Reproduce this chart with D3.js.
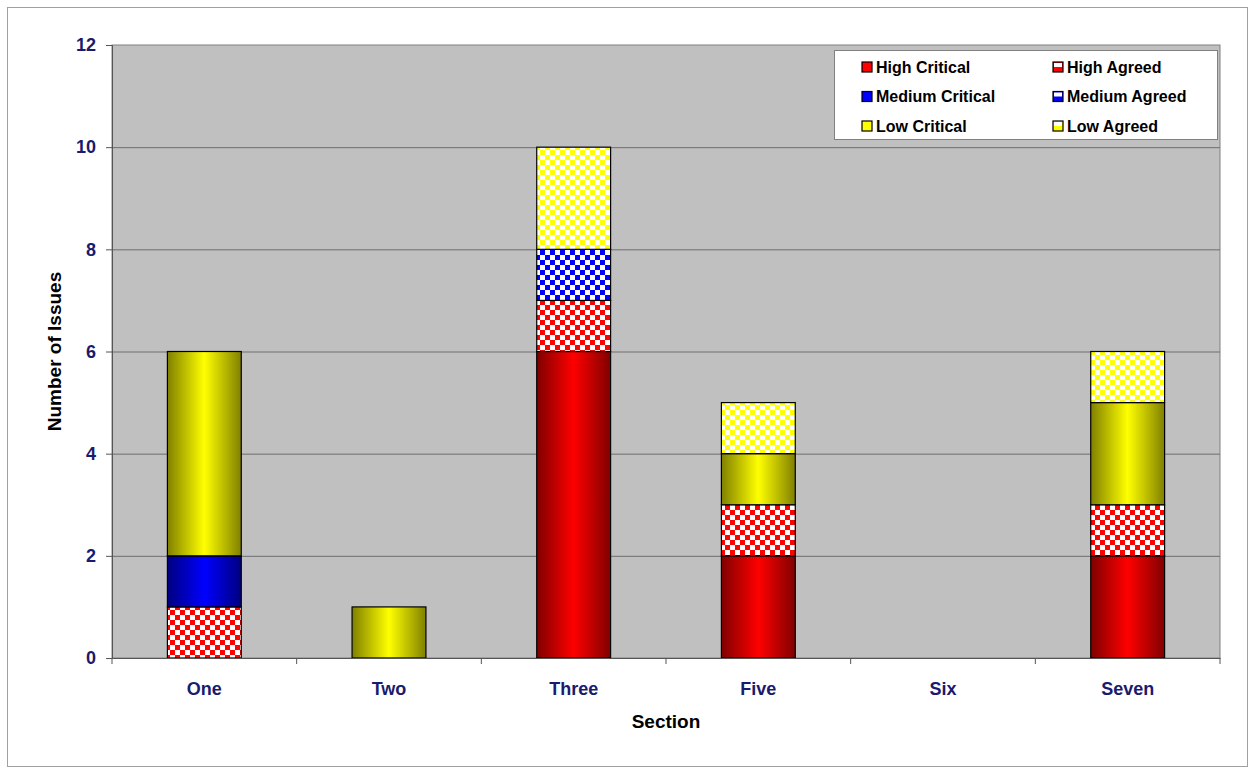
<!DOCTYPE html>
<html>
<head>
<meta charset="utf-8">
<script src="https://cdn.jsdelivr.net/npm/d3@7"></script>
<style>
  body { margin: 0; background: #ffffff; }
  svg { display: block; font-family: "Liberation Sans", Arial, sans-serif; }
</style>
</head>
<body>
<svg id="chart" width="1250" height="769"></svg>
<script>
// Chart data
const SECTIONS = ['One', 'Two', 'Three', 'Five', 'Six', 'Seven'];
const SERIES = ['High Critical', 'High Agreed', 'Medium Critical', 'Medium Agreed', 'Low Critical', 'Low Agreed'];
const HIGH_CRITICAL   = [0, 0, 6, 2, 0, 2];
const HIGH_AGREED     = [1, 0, 1, 1, 0, 1];
const MEDIUM_CRITICAL = [1, 0, 0, 0, 0, 0];
const MEDIUM_AGREED   = [0, 0, 1, 0, 0, 0];
const LOW_CRITICAL    = [4, 1, 0, 1, 0, 2];
const LOW_AGREED      = [0, 0, 2, 1, 0, 1];
const Y_TICKS = [0, 2, 4, 6, 8, 10, 12];

// Colors per series: bright center + dark edge for solids, color for checkers
const SERIES_COLORS = ['#ff0000', '#ff0000', '#0000ff', '#0000ff', '#ffff00', '#ffff00'];
const SERIES_DARK = ['#800000', '#800000', '#000080', '#000080', '#808000', '#808000'];
const IS_CHECKER = [false, true, false, true, false, true];

const svg = d3.select('#chart');
const defs = svg.append('defs');

// Gradients + checker patterns
SERIES.forEach((name, i) => {
    if (IS_CHECKER[i]) {
        const p = defs.append('pattern')
            .attr('id', 'pat' + i)
            .attr('patternUnits', 'userSpaceOnUse')
            .attr('width', 10).attr('height', 10);
        p.append('rect').attr('width', 10).attr('height', 10).attr('fill', '#ffffff');
        p.append('rect').attr('width', 5).attr('height', 5).attr('fill', SERIES_COLORS[i]);
        p.append('rect').attr('x', 5).attr('y', 5).attr('width', 5).attr('height', 5).attr('fill', SERIES_COLORS[i]);
    } else {
        const g = defs.append('linearGradient')
            .attr('id', 'grad' + i)
            .attr('x1', '0%').attr('x2', '100%').attr('y1', '0%').attr('y2', '0%');
        g.append('stop').attr('offset', '0%').attr('stop-color', SERIES_DARK[i]);
        g.append('stop').attr('offset', '50%').attr('stop-color', SERIES_COLORS[i]);
        g.append('stop').attr('offset', '100%').attr('stop-color', SERIES_DARK[i]);
    }
});
const fillFor = i => IS_CHECKER[i] ? `url(#pat${i})` : `url(#grad${i})`;

// Outer chart area
svg.append('rect')
    .attr('x', 7.5).attr('y', 7.5)
    .attr('width', 1240).attr('height', 759)
    .attr('fill', '#ffffff')
    .attr('stroke', '#a0a0a0')
    .attr('stroke-width', 1);

const margin = { left: 112, top: 45, right: 1220, bottom: 658 };

const x = d3.scaleBand()
    .domain(SECTIONS)
    .range([margin.left, margin.right])
    .paddingInner(0.6)
    .paddingOuter(0.3);

const y = d3.scaleLinear()
    .domain([0, 12])
    .range([margin.bottom, margin.top]);

// Plot area
svg.append('rect')
    .attr('x', margin.left).attr('y', margin.top)
    .attr('width', margin.right - margin.left)
    .attr('height', margin.bottom - margin.top)
    .attr('fill', '#c0c0c0')
    .attr('stroke', '#808080')
    .attr('stroke-width', 1);

// Grid lines
svg.append('g')
    .selectAll('line')
    .data(Y_TICKS.filter(d => d > 0 && d < 12))
    .enter()
    .append('line')
    .attr('x1', margin.left).attr('x2', margin.right)
    .attr('y1', d => y(d) + 0.5).attr('y2', d => y(d) + 0.5)
    .attr('stroke', '#6e6e6e')
    .attr('stroke-width', 1);

// Stack the data
const rows = SECTIONS.map((s, i) => ({
    section: s,
    'High Critical': HIGH_CRITICAL[i],
    'High Agreed': HIGH_AGREED[i],
    'Medium Critical': MEDIUM_CRITICAL[i],
    'Medium Agreed': MEDIUM_AGREED[i],
    'Low Critical': LOW_CRITICAL[i],
    'Low Agreed': LOW_AGREED[i]
}));
const stacked = d3.stack().keys(SERIES)(rows);

stacked.forEach((layer, i) => {
    svg.append('g')
        .selectAll('rect')
        .data(layer.filter(d => d[1] - d[0] > 0))
        .enter()
        .append('rect')
        .attr('x', d => x(d.data.section))
        .attr('y', d => y(d[1]))
        .attr('width', x.bandwidth())
        .attr('height', d => y(d[0]) - y(d[1]))
        .attr('fill', fillFor(i))
        .attr('stroke', '#000000')
        .attr('stroke-width', 1.2);
});

// Y axis
const yAxis = d3.axisLeft(y).tickValues(Y_TICKS).tickSize(6).tickPadding(10);
const yG = svg.append('g')
    .attr('transform', `translate(${margin.left},0)`)
    .call(yAxis);
yG.select('.domain').attr('stroke', '#555555');
yG.selectAll('.tick line').attr('stroke', '#555555');
yG.selectAll('.tick text')
    .attr('fill', '#1a1a6e')
    .attr('font-size', 18)
    .attr('font-weight', 'bold')
    .attr('font-family', '"Liberation Sans", Arial, sans-serif');

// X axis
const xAxis = d3.axisBottom(x).tickSize(0).tickPadding(24);
const xG = svg.append('g')
    .attr('transform', `translate(0,${margin.bottom})`)
    .call(xAxis);
xG.select('.domain').attr('stroke', '#555555');
xG.selectAll('.tick text')
    .attr('fill', '#1a1a6e')
    .attr('font-size', 18)
    .attr('font-weight', 'bold')
    .attr('font-family', '"Liberation Sans", Arial, sans-serif');

// Category boundary ticks
const step = x.step();
svg.append('g')
    .selectAll('line')
    .data(d3.range(SECTIONS.length + 1))
    .enter()
    .append('line')
    .attr('x1', d => margin.left + d * step).attr('x2', d => margin.left + d * step)
    .attr('y1', margin.bottom).attr('y2', margin.bottom + 6)
    .attr('stroke', '#555555');

// Axis titles
svg.append('text')
    .attr('x', (margin.left + margin.right) / 2)
    .attr('y', 728)
    .attr('text-anchor', 'middle')
    .attr('font-size', 19)
    .attr('font-weight', 'bold')
    .text('Section');

svg.append('text')
    .attr('transform', `translate(61,${(margin.top + margin.bottom) / 2}) rotate(-90)`)
    .attr('text-anchor', 'middle')
    .attr('font-size', 19)
    .attr('font-weight', 'bold')
    .text('Number of Issues');

// Legend
const legend = svg.append('g');
legend.append('rect')
    .attr('x', 834.5).attr('y', 50.5)
    .attr('width', 383).attr('height', 89)
    .attr('fill', '#ffffff')
    .attr('stroke', '#808080');

// Legend order: rows by level, columns critical/agreed
SERIES.forEach((name, i) => {
    const col = i % 2;
    const row = Math.floor(i / 2);
    const lx = 862 + col * 191;
    const ly = 67 + row * 29.5;
    legend.append('rect')
        .attr('x', lx).attr('y', ly - 5)
        .attr('width', 10).attr('height', 10)
        .attr('fill', SERIES_COLORS[i])
        .attr('stroke', '#000000')
        .attr('stroke-width', 1.2);
    if (IS_CHECKER[i]) {
        legend.append('rect')
            .attr('x', lx + 1).attr('y', ly - 4)
            .attr('width', 8).attr('height', 4)
            .attr('fill', '#ffffff');
    }
    legend.append('text')
        .attr('x', lx + 14).attr('y', ly + 5.5)
        .attr('font-size', 16)
        .attr('font-weight', 'bold')
        .text(name);
});
</script>
</body>
</html>
